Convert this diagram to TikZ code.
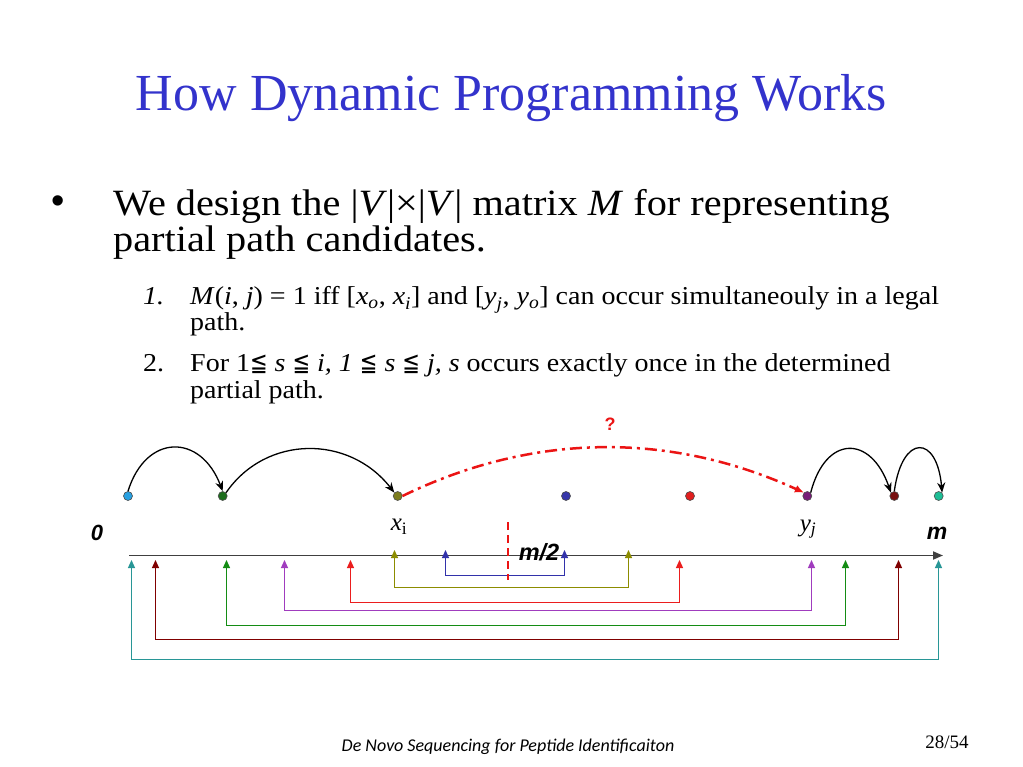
\documentclass[tikz,border=0pt]{standalone}
\usepackage{fontspec}
\setmainfont{Liberation Serif}
\setsansfont{Liberation Sans}
\newfontfamily\footfont{Carlito}
\newfontfamily\symfont{DejaVu Sans}
\usetikzlibrary{arrows.meta}
\definecolor{titleblue}{RGB}{51,51,204}
\definecolor{cLB}{RGB}{40,160,225}
\definecolor{cDG}{RGB}{30,110,30}
\definecolor{cOL}{RGB}{125,125,30}
\definecolor{cBL}{RGB}{55,55,170}
\definecolor{cRD}{RGB}{225,30,30}
\definecolor{cPU}{RGB}{120,30,120}
\definecolor{cDR}{RGB}{120,16,16}
\definecolor{cTQ}{RGB}{30,190,150}
\definecolor{bTE}{RGB}{40,150,150}
\definecolor{bDR}{RGB}{128,0,0}
\definecolor{bGR}{RGB}{20,140,20}
\definecolor{bPU}{RGB}{160,60,190}
\definecolor{bRD}{RGB}{235,30,30}
\definecolor{bOL}{RGB}{140,140,0}
\definecolor{bBL}{RGB}{50,50,170}
\definecolor{dashred}{RGB}{235,20,20}
\newcommand{\leqq}{{\symfont\scalebox{0.75}[1]{≦}}}
\newcommand{\squash}[1]{\scalebox{1}[0.92]{#1}}
\begin{document}
\begin{tikzpicture}[x=1pt,y=-1pt,
  dot/.style={circle, minimum size=9pt, inner sep=0pt, draw=black!70, line width=0.6pt},
  hop/.style={line width=1.3pt, -{Stealth[length=10pt,width=8pt]}},
  guess/.style={dashred, line width=2.5pt, dash pattern=on 12pt off 5pt on 3pt off 5pt, -{Latex[length=9pt,width=8pt]}},
  brk/.style={line width=1.2pt, {Triangle[length=8pt,width=7pt]}-{Triangle[length=8pt,width=7pt]}},
  lbl/.style={inner sep=0pt},
  bigtxt/.style={anchor=base west, inner sep=0pt, font=\fontsize{40.3}{40}\selectfont},
  itemtxt/.style={anchor=base west, inner sep=0pt, font=\fontsize{28}{28}\selectfont},
  axlbl/.style={inner sep=0pt, font=\sffamily\bfseries\itshape\fontsize{22}{22}\selectfont}
]
\useasboundingbox[fill=white] (0,0) rectangle (1023,767);

% title
\node[anchor=base, inner sep=0pt, text=titleblue, font=\fontsize{52}{52}\selectfont] (title) at (511.5,111) {How Dynamic Programming Works};

% bullet text
\node[anchor=base, inner sep=0pt, font=\sffamily\fontsize{38}{38}\selectfont] (bul) at (58,214) {•};
\node[bigtxt] (l1) at (113,216) {\squash{We design the |\textit{V}|×|\textit{V}| matrix \textit{M} for representing}};
\node[bigtxt] (l2) at (113,252) {\squash{partial path candidates.}};

\node[itemtxt] (n1) at (143,305) {\squash{\textit{1.}}};
\node[itemtxt] (i1a) at (190,305) {\squash{\textit{M}(\textit{i}, \textit{j}) = 1 iff [\textit{x}\textsubscript{\textit{o}}, \textit{x}\textsubscript{\textit{i}}] and [\textit{y}\textsubscript{\textit{j}}, \textit{y}\textsubscript{\textit{o}}] can occur simultaneouly in a legal}};
\node[itemtxt] (i1b) at (190,331) {\squash{path.}};
\node[itemtxt] (n2) at (143,371) {\squash{2.}};
\node[itemtxt] (i2a) at (190,371) {\squash{For 1\leqq{} \textit{s} \leqq{} \textit{i, 1} \leqq{} \textit{s} \leqq{} \textit{j, s} occurs exactly once in the determined}};
\node[itemtxt] (i2b) at (190,398) {\squash{partial path.}};

% dots
\node[dot, fill=cLB] (d1) at (128,496) {};
\node[dot, fill=cDG] (d2) at (222.7,496) {};
\node[dot, fill=cOL] (d3) at (397.7,496) {};
\node[dot, fill=cBL] (d4) at (566,496) {};
\node[dot, fill=cRD] (d5) at (690,496) {};
\node[dot, fill=cPU] (d6) at (807.3,496) {};
\node[dot, fill=cDR] (d7) at (894.3,496) {};
\node[dot, fill=cTQ] (d8) at (938.7,496) {};

% hops
\draw[hop] (d1.north) .. controls +(18,-58) and +(-22,-58) .. (d2.north);
\draw[hop] (d2.north east) .. controls +(40,-58) and +(-45,-58) .. (d3.north west);
\draw[hop] (d6.north east) .. controls +(15,-58) and +(-20,-58) .. (d7.north west);
\draw[hop] (d7.north) .. controls +(8,-58) and +(-5,-58) .. (d8.north east);
\draw[guess] (d3.east) .. controls (534,432) and (671,432) .. (d6.north west);
\node[inner sep=0pt, text=dashred, font=\sffamily\bfseries\fontsize{18}{18}\selectfont] (q) at (610,424) {?};

% labels
\node[lbl, font=\fontsize{25}{25}\selectfont] (xi) at (399,527) {\textit{x}\textsubscript{i}};
\node[lbl, font=\fontsize{25}{25}\selectfont] (yj) at (808,529) {\textit{y}\textsubscript{\textit{j}}};
\node[axlbl] (zero) at (97,533) {0};
\node[axlbl, font=\sffamily\bfseries\itshape\fontsize{23}{23}\selectfont] (mm) at (937,533) {m};

% brackets
\coordinate (tLa) at (131.5,560); \coordinate (bLa) at (131.5,659.5); \coordinate (bRa) at (938.5,659.5); \coordinate (tRa) at (938.5,560);
\coordinate (tLb) at (155.5,560); \coordinate (bLb) at (155.5,639.5); \coordinate (bRb) at (898.5,639.5); \coordinate (tRb) at (898.5,560);
\coordinate (tLc) at (226.5,560); \coordinate (bLc) at (226.5,625.5); \coordinate (bRc) at (845.5,625.5); \coordinate (tRc) at (845.5,560);
\coordinate (tLd) at (284.5,560); \coordinate (bLd) at (284.5,610.5); \coordinate (bRd) at (811.5,610.5); \coordinate (tRd) at (811.5,560);
\coordinate (tLe) at (350.5,560); \coordinate (bLe) at (350.5,602.5); \coordinate (bRe) at (679.5,602.5); \coordinate (tRe) at (679.5,560);
\coordinate (tLf) at (394.5,550); \coordinate (bLf) at (394.5,587.5); \coordinate (bRf) at (628.5,587.5); \coordinate (tRf) at (628.5,550);
\coordinate (tLg) at (445.5,550); \coordinate (bLg) at (445.5,575.5); \coordinate (bRg) at (564.5,575.5); \coordinate (tRg) at (564.5,550);
\draw[brk, bTE] (tLa) -- (bLa) -- (bRa) -- (tRa);
\draw[brk, bDR] (tLb) -- (bLb) -- (bRb) -- (tRb);
\draw[brk, bGR] (tLc) -- (bLc) -- (bRc) -- (tRc);
\draw[brk, bPU] (tLd) -- (bLd) -- (bRd) -- (tRd);
\draw[brk, bRD] (tLe) -- (bLe) -- (bRe) -- (tRe);

% axis
\coordinate (a0) at (129,555.5);
\coordinate (a1) at (943,555.5);
\draw[line width=1.8pt, black!75, -{Triangle[length=10pt,width=8pt]}] (a0) -- (a1);
\draw[brk, bOL] (tLf) -- (bLf) -- (bRf) -- (tRf);
\draw[brk, bBL] (tLg) -- (bLg) -- (bRg) -- (tRg);

% half line
\coordinate (h1) at (508,522);
\coordinate (h2) at (508,580);
\draw[dashred, line width=2.5pt, dash pattern=on 8pt off 5pt] (h1) -- (h2);
\node[axlbl, font=\sffamily\bfseries\itshape\fontsize{23.5}{23.5}\selectfont] (half) at (539,552) {m/2};

% footer
\node[anchor=base, inner sep=0pt, font=\footfont\itshape\fontsize{18}{18}\selectfont] (foot) at (508,751) {De Novo Sequencing for Peptide Identificaiton};
\node[anchor=base, inner sep=0pt, font=\fontsize{19}{19}\selectfont] (page) at (947,748) {28/54};
\end{tikzpicture}
\end{document}
